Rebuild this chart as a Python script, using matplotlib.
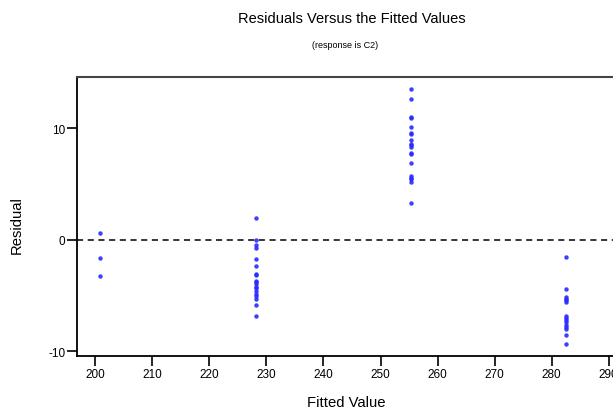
import numpy as np
import matplotlib
matplotlib.use('Agg')
import matplotlib.pyplot as plt

plt.rcParams['font.family'] = ['Liberation Sans Narrow', 'Liberation Sans', 'DejaVu Sans']
plt.rcParams['axes.unicode_minus'] = False

# fitted values (one per group) and residuals
fitted = [200.75, 228.1, 255.3, 282.5]
res_g1 = [0.6, -1.64, -3.26]
res_g2 = [1.97, 0.0, -0.51, -0.75, -1.76, -2.36, -3.1, -3.2, -3.65, -3.74,
          -4.0, -4.2, -4.33, -4.6, -4.84, -5.05, -5.3, -5.86, -6.84]
res_g3 = [13.5, 12.65, 11.0, 10.9, 10.16, 9.6, 9.53, 8.97, 8.6, 8.5, 8.28,
          7.77, 7.69, 6.93, 5.71, 5.56, 5.41, 5.2, 3.32]
res_g4 = [-1.52, -4.37, -5.11, -5.29, -5.44, -5.62, -6.82, -7.0, -7.2, -7.38,
          -7.6, -7.78, -7.98, -8.58, -9.36]
groups = [res_g1, res_g2, res_g3, res_g4]

xticks = [200, 210, 220, 230, 240, 250, 260, 270, 280, 290]
yticks = [-10, 0, 10]

fig = plt.figure(figsize=(6.13, 4.14), dpi=100)
ax = fig.add_axes([77 / 613, 1 - 357 / 414, (615 - 77) / 613, (357 - 78) / 414])

for fv, res in zip(fitted, groups):
    ax.plot([fv] * len(res), res, linestyle='none', marker='o', ms=3.2,
            mec='#2a2aff', mfc='#2a2aff', mew=0, alpha=0.9)

ax.axhline(0, color='black', lw=1.1, ls=(0, (4, 3)))

ax.set_xlim(196.8, 291.1)
ax.set_ylim(-10.42, 14.6)
ax.set_xticks(xticks)
ax.set_yticks(yticks)
ax.tick_params(direction='out', length=7, width=1.2, labelsize=8.5, pad=1.5)
ax.spines['right'].set_visible(False)
ax.spines['top'].set_color('#444444')
ax.spines['top'].set_linewidth(1.5)
ax.spines['left'].set_linewidth(1.3)
ax.spines['bottom'].set_linewidth(1.3)

reg = ['Liberation Sans', 'DejaVu Sans']
fig.text(352 / 613, 1 - 19 / 414, 'Residuals Versus the Fitted Values',
         ha='center', va='center', fontsize=10.5, family=reg)
fig.text(345 / 613, 1 - 45 / 414, '(response is C2)',
         ha='center', va='center', fontsize=6.5)
fig.text(346 / 613, 1 - 403 / 414, 'Fitted Value',
         ha='center', va='center', fontsize=10.7, family=reg)
fig.text(17 / 613, 1 - 225 / 414, 'Residual', rotation=90,
         ha='center', va='center', fontsize=10.7, family=reg)

plt.savefig('out.png', dpi=100)
